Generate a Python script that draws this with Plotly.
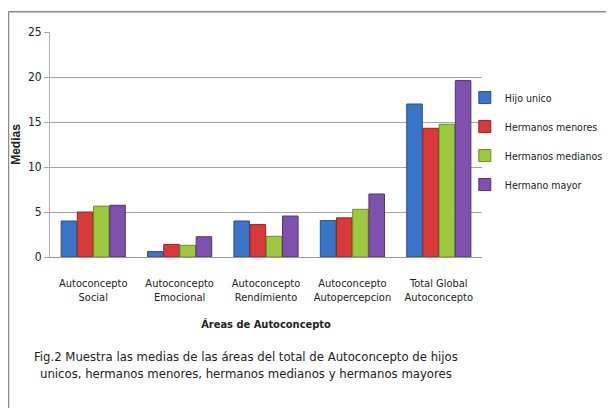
import plotly.graph_objects as go

categorias = ['Autoconcepto<br>Social', 'Autoconcepto<br>Emocional', 'Autoconcepto<br>Rendimiento',
              'Autoconcepto<br>Autopercepcion', 'Total Global<br>Autoconcepto']
hijo_unico = [4.0, 0.6, 4.0, 4.05, 17.0]
hermanos_menores = [5.0, 1.4, 3.6, 4.35, 14.3]
hermanos_medianos = [5.65, 1.3, 2.3, 5.3, 14.75]
hermano_mayor = [5.75, 2.25, 4.55, 7.0, 19.6]

series = [
    ('Hijo unico', hijo_unico, '#3b73c8', '#24508f'),
    ('Hermanos menores', hermanos_menores, '#d83a3a', '#962222'),
    ('Hermanos medianos', hermanos_medianos, '#9cc93d', '#6a8c24'),
    ('Hermano mayor', hermano_mayor, '#7e51ae', '#533273'),
]

posiciones = list(range(len(categorias)))
fuente = 'DejaVu Sans Condensed, Liberation Sans Narrow, sans-serif'

fig = go.Figure()
for i, (nombre, valores, color, borde) in enumerate(series):
    fig.add_trace(go.Bar(x=posiciones, y=valores, name=nombre, legendgroup=str(i),
                         marker=dict(color=color, line=dict(color=borde, width=1))))

# eje de etiquetas (desplazado como en la figura original)
fig.add_trace(go.Scatter(x=posiciones, y=[0] * len(posiciones), xaxis='x2', mode='markers',
                         marker=dict(opacity=0), showlegend=False, hoverinfo='skip'))

fig.update_layout(
    width=614, height=408,
    margin=dict(l=22, r=140, t=24, b=159, autoexpand=False),
    paper_bgcolor='white', plot_bgcolor='white',
    barmode='group', bargap=0.25, bargroupgap=0.04,
    font=dict(family=fuente, size=12, color='#222'),
    showlegend=True,
    legend=dict(x=0.962, y=0.773, xanchor='left', yanchor='top', tracegroupgap=10,
                font=dict(size=10.5, family=fuente), itemwidth=30, bgcolor='rgba(0,0,0,0)'),
    xaxis=dict(domain=[0.0443, 1], range=[-0.5, 4.5], showticklabels=False, showgrid=False,
               showline=True, linecolor='#999', zeroline=False, ticks=''),
    xaxis2=dict(domain=[0.0299, 0.8396], range=[-0.5, 4.5], overlaying='x', anchor='y', side='bottom',
                tickmode='array', tickvals=posiciones, ticktext=categorias, showgrid=False,
                showline=False, zeroline=False, ticks='', ticklabelstandoff=18,
                tickfont=dict(size=11, family=fuente),
                title=dict(text='<b>Áreas de Autoconcepto</b>', font=dict(size=11, family=fuente), standoff=17)),
    yaxis=dict(range=[0, 25], dtick=5, showgrid=True, gridcolor='#a6a6a6', gridwidth=1,
               showline=True, linecolor='#b0b0b0', ticks='outside', ticklen=5, tickcolor='#a6a6a6',
               zeroline=False, tickfont=dict(size=12, family=fuente),
               title=dict(text='<b>Medias</b>', font=dict(size=12, family='Liberation Sans, Arial'), standoff=4)),
)

# marco de la figura
fig.add_shape(type='line', xref='paper', yref='paper', x0=-0.0476, x1=-0.0476, y0=-0.7, y1=1.09,
              line=dict(color='#8a8a8a', width=1.5))
fig.add_shape(type='line', xref='paper', yref='paper', x0=-0.0476, x1=1.3, y0=1.09, y1=1.09,
              line=dict(color='#8a8a8a', width=1.5))

fig.add_annotation(text='Fig.2 Muestra las medias de las áreas del total de Autoconcepto de hijos<br>'
                        'unicos, hermanos menores, hermanos medianos y hermanos mayores',
                   xref='paper', yref='paper', x=0.478, y=-0.40, xanchor='center', yanchor='top',
                   showarrow=False, align='center', font=dict(size=13, family=fuente, color='#222'))

fig.write_html('out.html')
